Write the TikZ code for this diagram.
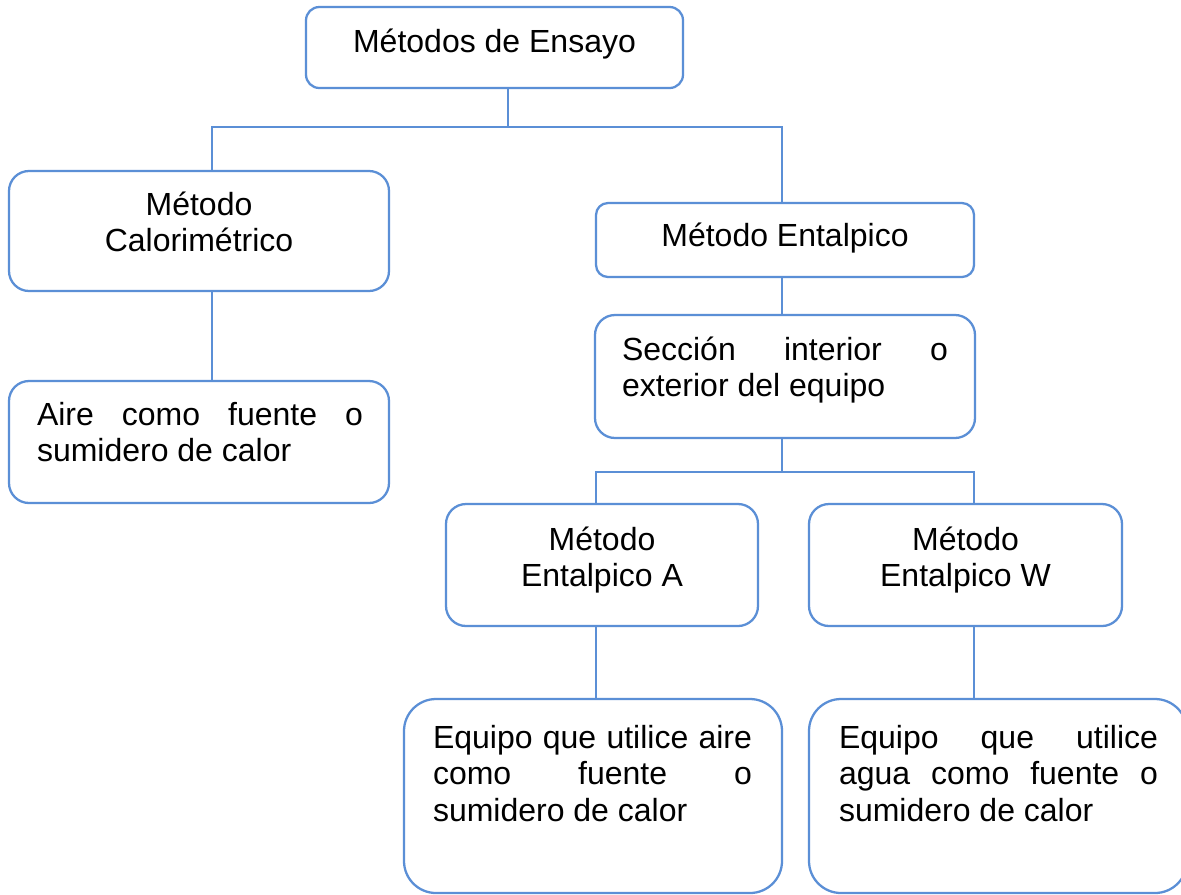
\documentclass[tikz,border=0pt]{standalone}
\usepackage{fontspec}
\setmainfont{Liberation Sans}
\usetikzlibrary{calc}
\definecolor{bl}{RGB}{91,143,214}
\newdimen\px \px=0.75pt
\newcommand\fs{\fontsize{24pt}{27.4pt}\selectfont}
\newcommand\mystrut{\rule{0pt}{26\px}}
\tikzset{
  boxnode/.style={draw=bl, line width=1.7pt, fill=white, inner sep=0pt, outer sep=0pt, text=black},
  conn/.style={draw=bl, line width=1.7pt}
}
\begin{document}
\begin{tikzpicture}[x=0.75pt,y=-0.75pt]
\path[fill=white,use as bounding box] (0,0) rectangle (1181,894);

\node[boxnode, rounded corners=10pt] (b1) at (494.5,47.5)
  {\parbox[c][81\px][t]{377\px}{\vspace*{19\px}\fs\centering\mystrut Métodos de Ensayo}};
\node[boxnode, rounded corners=15pt] (b2) at (199,231)
  {\parbox[c][120\px][t]{380\px}{\vspace*{18\px}\fs\centering\mystrut Método\\Calorimétrico}};
\node[boxnode, rounded corners=9pt] (b3) at (785,240)
  {\parbox[c][74\px][t]{378\px}{\vspace*{17\px}\fs\centering\mystrut Método Entalpico}};
\node[boxnode, rounded corners=15pt] (b4) at (785,376.5)
  {\parbox[c][123\px][t]{380\px}{\vspace*{19\px}\fs\leftskip=27\px\mystrut\makebox[326\px][s]{Sección interior o}\\exterior del equipo}};
\node[boxnode, rounded corners=15pt] (b5) at (199,442)
  {\parbox[c][122\px][t]{380\px}{\vspace*{18\px}\fs\leftskip=28\px\mystrut\makebox[326\px][s]{Aire como fuente o}\\sumidero de calor}};
\node[boxnode, rounded corners=15pt] (b6) at (602,565)
  {\parbox[c][122\px][t]{312\px}{\vspace*{20\px}\fs\centering\mystrut Método\\Entalpico A}};
\node[boxnode, rounded corners=15pt] (b7) at (965.5,565)
  {\parbox[c][122\px][t]{313\px}{\vspace*{20\px}\fs\centering\mystrut Método\\Entalpico W}};
\node[boxnode, rounded corners=24pt] (b8) at (593,796)
  {\parbox[c][194\px][t]{378\px}{\vspace*{23\px}\fs\leftskip=29\px\mystrut\makebox[319\px][s]{Equipo que utilice aire}\\\makebox[319\px][s]{como fuente o}\\sumidero de calor}};
\node[boxnode, rounded corners=24pt] (b9) at (998,796)
  {\parbox[c][194\px][t]{378\px}{\vspace*{23\px}\fs\leftskip=30\px\mystrut\makebox[319\px][s]{Equipo que utilice}\\\makebox[319\px][s]{agua como fuente o}\\sumidero de calor}};

\coordinate (busA) at (508,127);
\coordinate (busB) at (782,472);
\coordinate (xL) at (212,0);
\coordinate (xR) at (782,0);
\coordinate (xP) at (596,0);
\coordinate (xQ) at (974,0);

\draw[conn] (b1.south -| busA) -- (busA);
\draw[conn] (b2.north -| xL) |- (busA) -| (b3.north -| xR);
\draw[conn] (b2.south -| xL) -- (b5.north -| xL);
\draw[conn] (b3.south -| xR) -- (b4.north -| xR);
\draw[conn] (b4.south -| busB) -- (busB);
\draw[conn] (b6.north -| xP) |- (busB) -| (b7.north -| xQ);
\draw[conn] (b6.south -| xP) -- (b8.north -| xP);
\draw[conn] (b7.south -| xQ) -- (b9.north -| xQ);
\end{tikzpicture}
\end{document}
